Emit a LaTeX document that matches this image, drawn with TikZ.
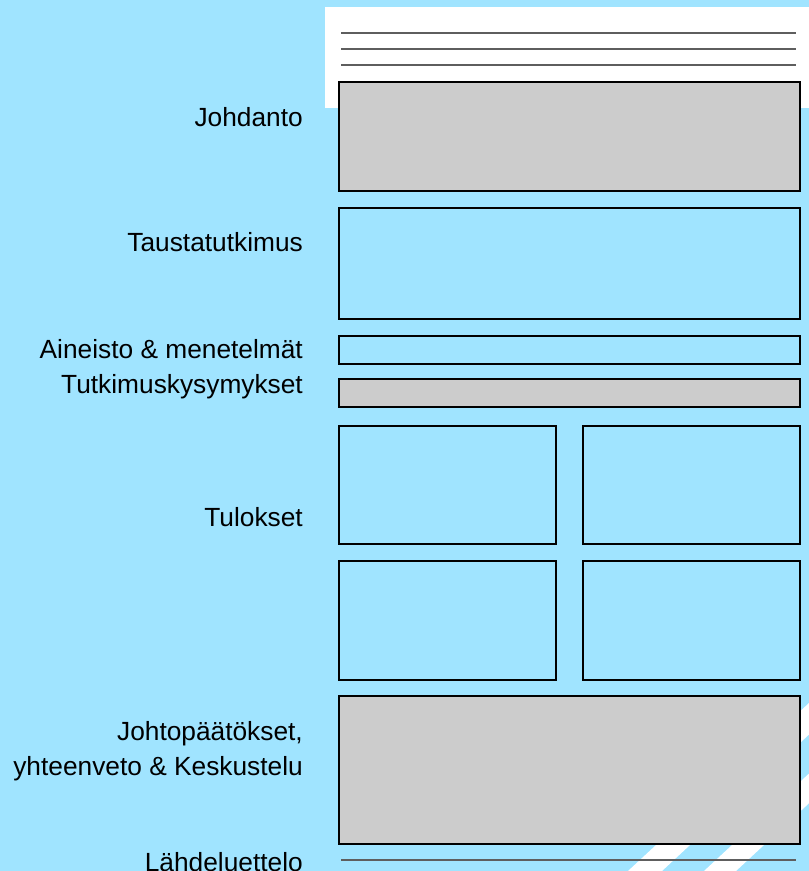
\documentclass[tikz,border=0pt]{standalone}
\usepackage{fontspec}
\setmainfont{Liberation Sans}
\definecolor{bgblue}{HTML}{A0E4FF}
\definecolor{boxgray}{HTML}{CCCCCC}
\definecolor{rulegray}{HTML}{5E5E5E}
\begin{document}
\begin{tikzpicture}[x=1pt,y=-1pt,
  lab/.style={anchor=base east, inner sep=0pt, font=\fontsize{26.3}{32}\selectfont},
  boxbase/.style={draw=black, line width=2pt, inner sep=0pt, anchor=north west},
  graybox/.style={boxbase, fill=boxgray},
  bluebox/.style={boxbase, fill=bgblue},
  rulel/.style={draw=rulegray, line width=2pt}]
\useasboundingbox (0,0) rectangle (809,871);
\fill[bgblue] (0,0) rectangle (809,871);
% diagonal white stripes
\begin{scope}
\clip (0,0) rectangle (809,871);
\fill[white] (628,871) -- (662,871) -- (857,690) -- (823,690) -- cycle;
\fill[white] (704,871) -- (736,871) -- (931,690) -- (899,690) -- cycle;
\end{scope}
% white header area
\fill[white] (325,7) rectangle (809,108);
\coordinate (h1a) at (341,33); \coordinate (h1b) at (796,33);
\coordinate (h2a) at (341,49); \coordinate (h2b) at (796,49);
\coordinate (h3a) at (341,65); \coordinate (h3b) at (796,65);
\draw[rulel] (h1a) -- (h1b);
\draw[rulel] (h2a) -- (h2b);
\draw[rulel] (h3a) -- (h3b);
% boxes
\node[graybox, minimum width=461pt, minimum height=109pt] (johd) at (338,81) {};
\node[bluebox, minimum width=461pt, minimum height=111pt] (taus) at (338,207) {};
\node[bluebox, minimum width=461pt, minimum height=28pt] (aine) at (338,335) {};
\node[graybox, minimum width=461pt, minimum height=28pt] (tutk) at (338,378) {};
\node[bluebox, minimum width=217pt, minimum height=118pt] (tul1) at (338,425) {};
\node[bluebox, minimum width=217pt, minimum height=118pt] (tul2) at (582,425) {};
\node[bluebox, minimum width=217pt, minimum height=119pt] (tul3) at (338,560) {};
\node[bluebox, minimum width=217pt, minimum height=119pt] (tul4) at (582,560) {};
\node[graybox, minimum width=461pt, minimum height=148pt] (joht) at (338,695) {};
% bottom reference line
\coordinate (la) at (341,860); \coordinate (lb) at (796,860);
\draw[rulel] (la) -- (lb);
% labels
\node[lab] (tjohd) at (303,126) {Johdanto};
\node[lab] (ttaus) at (303,251) {Taustatutkimus};
\node[lab] (taine) at (303,358) {Aineisto \& menetelmät};
\node[lab] (ttutk) at (303,393) {Tutkimuskysymykset};
\node[lab] (ttul) at (303,526) {Tulokset};
\node[lab] (tjoht1) at (303,740) {Johtopäätökset,};
\node[lab] (tjoht2) at (303,775) {yhteenveto \& Keskustelu};
\node[lab] (tlahd) at (303,871) {Lähdeluettelo};
\end{tikzpicture}
\end{document}
